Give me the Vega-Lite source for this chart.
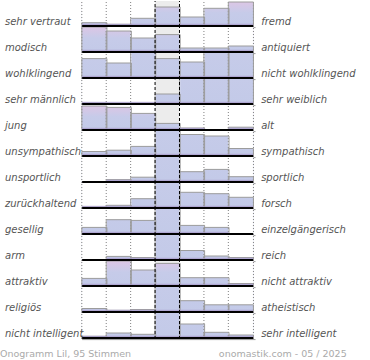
{
  "$schema": "https://vega.github.io/schema/vega-lite/v6.json",
  "padding": 0,
  "spacing": 0,
  "config": {"view": {"stroke": null}, "axis": {"disable": true}},
  "datasets": {
    "pairs": [
      {"i": 1, "left": "sehr vertraut", "right": "fremd"},
      {"i": 2, "left": "modisch", "right": "antiquiert"},
      {"i": 3, "left": "wohlklingend", "right": "nicht wohlklingend"},
      {"i": 4, "left": "sehr männlich", "right": "sehr weiblich"},
      {"i": 5, "left": "\u00a0jung", "right": "alt"},
      {"i": 6, "left": "unsympathisch", "right": "sympathisch"},
      {"i": 7, "left": "unsportlich", "right": "sportlich"},
      {"i": 8, "left": "zurückhaltend", "right": "forsch"},
      {"i": 9, "left": "gesellig", "right": "einzelgängerisch"},
      {"i": 10, "left": "arm", "right": "reich"},
      {"i": 11, "left": "attraktiv", "right": "nicht attraktiv"},
      {"i": 12, "left": "religiös", "right": "atheistisch"},
      {"i": 13, "left": "nicht intelligent", "right": "sehr intelligent"}
    ],
    "bars": [
      {"i": 1, "col": -3, "v": 3.3}, {"i": 1, "col": -2, "v": 1.7}, {"i": 1, "col": -1, "v": 7.7}, {"i": 1, "col": 0, "v": 19}, {"i": 1, "col": 1, "v": 9}, {"i": 1, "col": 2, "v": 17.7}, {"i": 1, "col": 3, "v": 24},
      {"i": 2, "col": -3, "v": 25}, {"i": 2, "col": -2, "v": 21}, {"i": 2, "col": -1, "v": 14}, {"i": 2, "col": 0, "v": 17.4}, {"i": 2, "col": 1, "v": 4}, {"i": 2, "col": 2, "v": 4}, {"i": 2, "col": 3, "v": 6},
      {"i": 3, "col": -3, "v": 19.4}, {"i": 3, "col": -2, "v": 15}, {"i": 3, "col": -1, "v": 40}, {"i": 3, "col": 0, "v": 19.4}, {"i": 3, "col": 1, "v": 16}, {"i": 3, "col": 2, "v": 44}, {"i": 3, "col": 3, "v": 42},
      {"i": 4, "col": -3, "v": 1}, {"i": 4, "col": -2, "v": 0.7}, {"i": 4, "col": -1, "v": 0.7}, {"i": 4, "col": 0, "v": 10}, {"i": 4, "col": 1, "v": 45}, {"i": 4, "col": 2, "v": 48}, {"i": 4, "col": 3, "v": 46},
      {"i": 5, "col": -3, "v": 24}, {"i": 5, "col": -2, "v": 22.6}, {"i": 5, "col": -1, "v": 16.6}, {"i": 5, "col": 0, "v": 6.6}, {"i": 5, "col": 1, "v": 2}, {"i": 5, "col": 2, "v": 0}, {"i": 5, "col": 3, "v": 2.8},
      {"i": 6, "col": -3, "v": 4.5}, {"i": 6, "col": -2, "v": 5.8}, {"i": 6, "col": -1, "v": 9.6}, {"i": 6, "col": 0, "v": 50}, {"i": 6, "col": 1, "v": 21.5}, {"i": 6, "col": 2, "v": 20}, {"i": 6, "col": 3, "v": 7.5},
      {"i": 7, "col": -3, "v": 0}, {"i": 7, "col": -2, "v": 2.4}, {"i": 7, "col": -1, "v": 4.8}, {"i": 7, "col": 0, "v": 55}, {"i": 7, "col": 1, "v": 10.3}, {"i": 7, "col": 2, "v": 12.6}, {"i": 7, "col": 3, "v": 5.3},
      {"i": 8, "col": -3, "v": 1}, {"i": 8, "col": -2, "v": 2.7}, {"i": 8, "col": -1, "v": 9.3}, {"i": 8, "col": 0, "v": 50}, {"i": 8, "col": 1, "v": 15.7}, {"i": 8, "col": 2, "v": 14.3}, {"i": 8, "col": 3, "v": 10.7},
      {"i": 9, "col": -3, "v": 6.6}, {"i": 9, "col": -2, "v": 14.3}, {"i": 9, "col": -1, "v": 13.6}, {"i": 9, "col": 0, "v": 52}, {"i": 9, "col": 1, "v": 8.6}, {"i": 9, "col": 2, "v": 6.6}, {"i": 9, "col": 3, "v": 0},
      {"i": 10, "col": -3, "v": 0}, {"i": 10, "col": -2, "v": 3.6}, {"i": 10, "col": -1, "v": 2.5}, {"i": 10, "col": 0, "v": 60}, {"i": 10, "col": 1, "v": 9.5}, {"i": 10, "col": 2, "v": 4}, {"i": 10, "col": 3, "v": 2.5},
      {"i": 11, "col": -3, "v": 7.6}, {"i": 11, "col": -2, "v": 25}, {"i": 11, "col": -1, "v": 16}, {"i": 11, "col": 0, "v": 22.6}, {"i": 11, "col": 1, "v": 8.3}, {"i": 11, "col": 2, "v": 8.3}, {"i": 11, "col": 3, "v": 2.5},
      {"i": 12, "col": -3, "v": 3.5}, {"i": 12, "col": -2, "v": 1.7}, {"i": 12, "col": -1, "v": 2.5}, {"i": 12, "col": 0, "v": 55}, {"i": 12, "col": 1, "v": 11.3}, {"i": 12, "col": 2, "v": 7.2}, {"i": 12, "col": 3, "v": 7.2},
      {"i": 13, "col": -3, "v": 1.7}, {"i": 13, "col": -2, "v": 5}, {"i": 13, "col": -1, "v": 3.7}, {"i": 13, "col": 0, "v": 55}, {"i": 13, "col": 1, "v": 14}, {"i": 13, "col": 2, "v": 5.7}, {"i": 13, "col": 3, "v": 3}
    ]
  },
  "vconcat": [
    {
      "data": {"name": "bars"},
      "transform": [
        {"lookup": "i", "from": {"data": {"name": "pairs"}, "key": "i", "fields": ["left", "right"]}},
        {"joinaggregate": [{"op": "max", "field": "v", "as": "vmax"}], "groupby": ["i"]}
      ],
      "facet": {"row": {"field": "i", "type": "ordinal", "header": null}},
      "spacing": 0,
      "bounds": "flush",
      "spec": {
        "width": 370,
        "height": 26,
        "layer": [
          {
            "mark": {"type": "bar", "orient": "vertical", "width": 25.1, "clip": true,
              "fill": {"gradient": "linear", "x1": 0, "y1": 0, "x2": 0, "y2": 1,
                "stops": [{"offset": 0, "color": "#dcc6e5"}, {"offset": 0.45, "color": "#c6cbe9"}, {"offset": 1, "color": "#c3cae8"}]}},
            "encoding": {
              "x": {"field": "col", "type": "quantitative", "scale": {"domain": [-6.659, 8.082], "nice": false, "zero": false}, "axis": null},
              "y": {"field": "vmax", "type": "quantitative", "scale": {"domain": [-1, 25], "nice": false, "zero": false}, "axis": null},
              "y2": {"datum": 0}
            }
          },
          {
            "mark": {"type": "bar", "orient": "vertical", "width": 25.1, "clip": true},
            "encoding": {
              "x": {"field": "col", "type": "quantitative"},
              "y": {"field": "v", "type": "quantitative"},
              "y2": {"datum": 27},
              "fill": {"condition": {"test": "datum.col === 0", "value": "#ececec"}, "value": "#ffffff"}
            }
          },
          {
            "transform": [{"filter": "datum.col !== 0 && datum.col !== 1"}],
            "mark": {"type": "rule", "xOffset": -12.55, "strokeDash": [1, 2], "color": "#808080", "strokeWidth": 1},
            "encoding": {"x": {"field": "col", "type": "quantitative"}, "y": {"datum": -1}, "y2": {"datum": 25}}
          },
          {
            "transform": [{"filter": "datum.col === 3"}],
            "mark": {"type": "rule", "xOffset": 12.55, "strokeDash": [1, 2], "color": "#808080", "strokeWidth": 1},
            "encoding": {"x": {"field": "col", "type": "quantitative"}, "y": {"datum": -1}, "y2": {"datum": 25}}
          },
          {
            "mark": {"type": "bar", "orient": "vertical", "width": 25.1, "clip": true, "fill": "transparent", "stroke": "#9c9c9c", "strokeWidth": 1},
            "encoding": {
              "x": {"field": "col", "type": "quantitative"},
              "y": {"field": "v", "type": "quantitative"},
              "y2": {"datum": 0}
            }
          },
          {
            "transform": [{"filter": "datum.v > 0"}],
            "mark": {"type": "bar", "orient": "vertical", "width": 24.5, "fill": "#aa9dcc", "opacity": 0.8},
            "encoding": {
              "x": {"field": "col", "type": "quantitative"},
              "y": {"datum": 0},
              "y2": {"datum": 2.2}
            }
          },
          {
            "transform": [{"filter": "datum.col === 0"}],
            "mark": {"type": "rule", "color": "#999999", "strokeWidth": 1, "yOffset": 1.6},
            "encoding": {"x": {"datum": -3.5}, "x2": {"datum": 3.6}, "y": {"datum": 0}}
          },
          {
            "transform": [{"filter": "datum.col === 0"}],
            "mark": {"type": "rule", "color": "#000000", "strokeWidth": 2},
            "encoding": {"x": {"datum": -3.5}, "x2": {"datum": 3.5}, "y": {"datum": 0}}
          },
          {
            "transform": [{"filter": "datum.col === 0 || datum.col === 1"}],
            "mark": {"type": "rule", "xOffset": -12.55, "strokeDash": [3, 2], "color": "#000000", "strokeWidth": 1},
            "encoding": {"x": {"field": "col", "type": "quantitative"}, "y": {"datum": -1}, "y2": {"datum": 25}}
          },
          {
            "transform": [{"filter": "datum.col === 0"}],
            "mark": {"type": "text", "align": "left", "baseline": "alphabetic", "font": "DejaVu Sans", "fontStyle": "italic", "fontSize": 10, "color": "#555555"},
            "encoding": {"x": {"datum": -6.659}, "y": {"datum": 1.5}, "text": {"field": "left"}}
          },
          {
            "transform": [{"filter": "datum.col === 0"}],
            "mark": {"type": "text", "align": "left", "baseline": "alphabetic", "font": "DejaVu Sans", "fontStyle": "italic", "fontSize": 10, "color": "#555555"},
            "encoding": {"x": {"datum": 3.83}, "y": {"datum": 1.5}, "text": {"field": "right"}}
          }
        ]
      }
    },
    {
      "width": 370,
      "height": 22,
      "layer": [
        {
          "data": {"values": [{"t": "Onogramm Lil, 95 Stimmen"}]},
          "mark": {"type": "text", "align": "left", "baseline": "alphabetic", "font": "DejaVu Sans", "fontSize": 9.5, "color": "#aaaaaa"},
          "encoding": {
            "x": {"datum": -6.659, "type": "quantitative", "scale": {"domain": [-6.659, 8.082], "nice": false, "zero": false}, "axis": null},
            "y": {"datum": 6.5, "type": "quantitative", "scale": {"domain": [0, 22], "nice": false, "zero": false}, "axis": null},
            "text": {"field": "t"}
          }
        },
        {
          "data": {"values": [{"t": "onomastik.com - 05 / 2025"}]},
          "mark": {"type": "text", "align": "right", "baseline": "alphabetic", "font": "DejaVu Sans", "fontSize": 9.5, "color": "#aaaaaa"},
          "encoding": {
            "x": {"datum": 7.153, "type": "quantitative"},
            "y": {"datum": 6.5, "type": "quantitative"},
            "text": {"field": "t"}
          }
        }
      ]
    }
  ]
}
